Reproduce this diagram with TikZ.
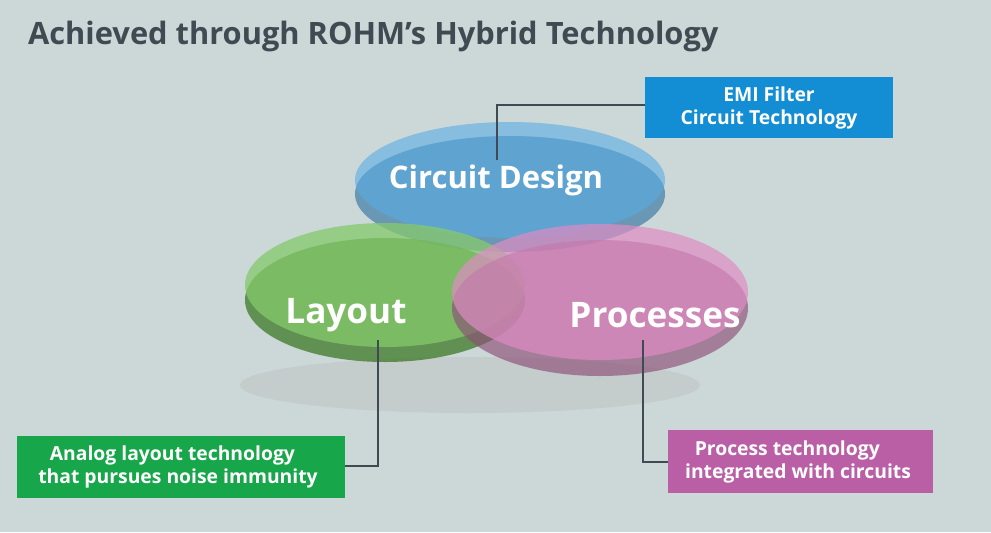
\documentclass[tikz,border=0pt]{standalone}
\usepackage{fontspec}
\setmainfont{Open Sans}
\usetikzlibrary{positioning}
\definecolor{bgc}{HTML}{CCD8D8}
\definecolor{titlec}{HTML}{3F4A52}
\definecolor{bluec}{HTML}{3C9CE0}
\definecolor{greenc}{HTML}{5CB83A}
\definecolor{pinkc}{HTML}{D878B8}
\definecolor{boxblue}{HTML}{138DD3}
\definecolor{boxgreen}{HTML}{17A64A}
\definecolor{boxpink}{HTML}{BA5FA6}
\tikzset{
  boxtext/.style={text=white, font=\bfseries\fontsize{16.5}{20}\selectfont},
  disclabel/.style={text=white, font=\bfseries\fontsize{30}{33}\selectfont},
  leader/.style={draw=titlec, line width=1.3pt}
}
\begin{document}
\begin{tikzpicture}[x=0.03cm,y=-0.03cm]
	\fill[bgc] (0,0) rectangle (991,532);
	%\draw[help lines] (0,0) grid[step=50] (991,532);
	\node[anchor=west, text=titlec, font=\bfseries\fontsize{26.3}{30}\selectfont] (title) at (24,36) {Achieved through ROHM’s Hybrid Technology};
	% shadows
	\fill[gray!60, opacity=0.3] (470,385) ellipse [x radius=230, y radius=28];
	% blue disc
	\fill[bluec!70!black, opacity=0.6] (510,194) ellipse [x radius=155, y radius=58];
	\fill[bluec!85!white, opacity=0.6] (510,180) ellipse [x radius=155, y radius=58];
	% green disc
	\fill[greenc!65!black, opacity=0.75] (385,300) ellipse [x radius=140, y radius=62];
	\fill[greenc!75!white, opacity=0.75] (385,285) ellipse [x radius=140, y radius=62];
	% pink disc
	\fill[pinkc!65!black, opacity=0.65] (600,308) ellipse [x radius=148, y radius=68];
	\fill[pinkc!85!white, opacity=0.7] (600,292) ellipse [x radius=148, y radius=68];
	\node[disclabel, font=\bfseries\fontsize{26.5}{30}\selectfont] (design) at (496,180) {Circuit Design};
	\node[disclabel] (layout) at (346,315) {Layout};
	\node[disclabel] (process) at (655,315) {Processes};
	% boxes
	\fill[boxblue] (645,77) rectangle (893,138);
	\node[boxtext, align=center] (emi) at (769,108) {EMI Filter\\Circuit Technology};
	\fill[boxgreen] (17,436) rectangle (345,498);
	\node[boxtext, align=left] (analog) at (178,467) {\hspace*{0.6em}Analog layout technology\\that pursues noise immunity};
	\fill[boxpink] (668,430) rectangle (933,493);
	\node[boxtext, align=left] (proc) at (798,462) {\hspace*{0.5em}Process technology\\integrated with circuits};
	% leaders
	\coordinate (d1) at (497,160);
	\coordinate (l1) at (378,340);
	\coordinate (p1) at (643,340);
	\draw[leader] (d1) -- (497,105) -- (645,105);
	\draw[leader] (l1) -- (378,466) -- (345,466);
	\draw[leader] (p1) -- (643,462) -- (668,462);
\end{tikzpicture}
\end{document}
